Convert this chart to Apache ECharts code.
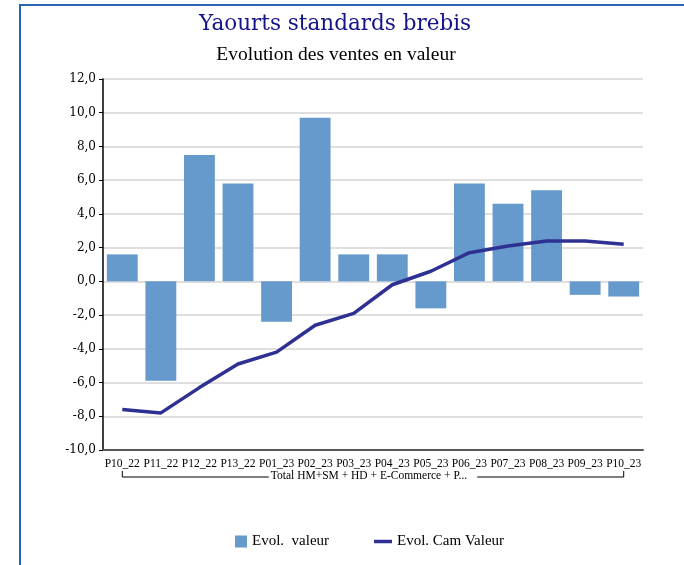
<!DOCTYPE html>
<html>
<head>
<meta charset="utf-8">
<script src="https://cdn.jsdelivr.net/npm/echarts@6/dist/echarts.min.js"></script>
<style>
html,body{margin:0;padding:0;background:#fff;}
#chart{width:684px;height:565px;}
</style>
</head>
<body>
<div id="chart"></div>
<script>
const categories = ['P10_22','P11_22','P12_22','P13_22','P01_23','P02_23','P03_23','P04_23','P05_23','P06_23','P07_23','P08_23','P09_23','P10_23'];
const evolValeur = [1.6, -5.9, 7.5, 5.8, -2.4, 9.7, 1.6, 1.6, -1.6, 5.8, 4.6, 5.4, -0.8, -0.9];
const evolCamValeur = [-7.6, -7.8, -6.3, -4.9, -4.2, -2.6, -1.9, -0.2, 0.6, 1.7, 2.1, 2.4, 2.4, 2.2];
const groupLabel = 'Total HM+SM + HD + E-Commerce + P...';
const titleText = 'Yaourts standards brebis';
const subtitleText = 'Evolution des ventes en valeur';
const seriesNames = ['Evol.  valeur', 'Evol. Cam Valeur'];

const chart = echarts.init(document.getElementById('chart'), null, {renderer: 'canvas'});
const option = {
  backgroundColor: '#fff',
  animation: false,
  title: [
    {text: titleText, left: 335, top: 13, textAlign: 'center', padding: 0,
     textStyle: {fontFamily: 'DejaVu Serif', fontSize: 21.5, fontWeight: 'normal', color: '#14148a'}},
    {text: subtitleText, left: 336, top: 45, textAlign: 'center', padding: 0,
     textStyle: {fontFamily: 'Liberation Serif', fontSize: 19.5, fontWeight: 'normal', color: '#000'}}
  ],
  legend: [
    {data: [{name: seriesNames[0], icon: 'rect'}], left: 235, top: 534, padding: 0, itemWidth: 12, itemHeight: 12, itemGap: 6,
     textStyle: {fontFamily: 'Liberation Serif', fontSize: 15, color: '#000'}, selectedMode: false},
    {data: [{name: seriesNames[1], icon: 'rect'}], left: 374, top: 534, padding: 0, itemWidth: 18, itemHeight: 3.5, itemGap: 6,
     textStyle: {fontFamily: 'Liberation Serif', fontSize: 15, color: '#000'}, selectedMode: false}
  ],
  grid: {left: 103, right: 41, top: 79, bottom: 115, containLabel: false},
  xAxis: {
    type: 'category', data: categories,
    axisLine: {onZero: false, lineStyle: {color: '#595959', width: 2}},
    axisTick: {show: false},
    axisLabel: {interval: 0, margin: 8, fontFamily: 'Liberation Serif', fontSize: 11.5, color: '#000'},
    splitLine: {show: false}
  },
  yAxis: {
    type: 'value', min: -10, max: 12, interval: 2,
    axisLine: {show: true, lineStyle: {color: '#000', width: 1.5}},
    axisTick: {show: true, length: 4, lineStyle: {color: '#000'}},
    axisLabel: {margin: 7, fontFamily: 'DejaVu Serif', fontSize: 12, color: '#000',
      formatter: v => v.toFixed(1).replace('.', ',')},
    splitLine: {lineStyle: {color: '#d4d4d4', width: 1.5}}
  },
  series: [
    {name: seriesNames[0], type: 'bar', data: evolValeur, barCategoryGap: '20%',
     itemStyle: {color: '#6699cc'}},
    {name: seriesNames[1], type: 'line', data: evolCamValeur, symbol: 'none',
     lineStyle: {color: '#2e3192', width: 3.5}, itemStyle: {color: '#2e3192'}, z: 5}
  ]
};
chart.setOption(option);

// group bracket under the category labels, positioned through the axis scale
const p0 = chart.convertToPixel({xAxisIndex: 0, yAxisIndex: 0}, [0, -10]);
const p1 = chart.convertToPixel({xAxisIndex: 0, yAxisIndex: 0}, [categories.length - 1, -10]);
const by = p0[1] + 27;
chart.setOption({
  graphic: [
    {type: 'rect', shape: {x: 20, y: 5, width: 700, height: 620}, z: 100,
     style: {fill: 'none', stroke: '#2b63b5', lineWidth: 2}, silent: true},
    {type: 'polyline', shape: {points: [[p0[0], by - 6], [p0[0], by], [p1[0], by], [p1[0], by - 6]]},
     style: {fill: 'none', stroke: '#000', lineWidth: 1}, silent: true},
    {type: 'text', x: (p0[0] + p1[0]) / 2, y: by - 1, silent: true,
     style: {text: groupLabel, fontFamily: 'Liberation Serif', fontSize: 11.5, fill: '#000',
       align: 'center', verticalAlign: 'middle', backgroundColor: '#fff', padding: [0, 10, 0, 2]}}
  ]
});
</script>
</body>
</html>
